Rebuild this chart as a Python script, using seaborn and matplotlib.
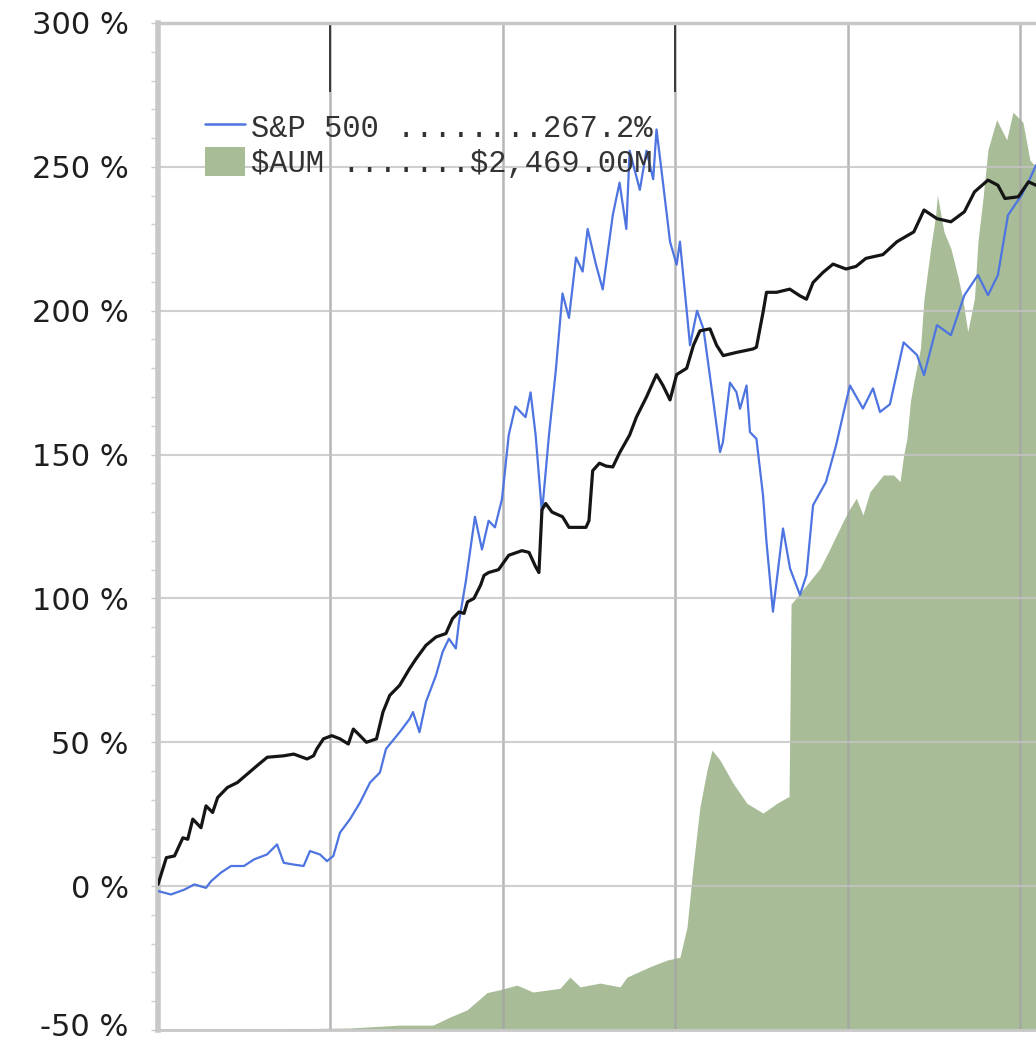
import matplotlib
matplotlib.use("Agg")
import matplotlib.pyplot as plt
import matplotlib.transforms as mtransforms
from matplotlib.ticker import MultipleLocator, FuncFormatter
from matplotlib.patches import Patch
from matplotlib.lines import Line2D
import seaborn as sns
import pandas as pd

# months from start (one vertical gridline every 12 months)
fund_x = [0.00, 0.58, 1.15, 1.73, 2.07, 2.42, 2.99, 3.34, 3.80, 4.15, 4.83, 5.52, 6.22, 6.90,
          7.60, 8.75, 9.44, 10.37, 10.82, 11.05, 11.51, 12.09, 12.66, 13.24, 13.59, 14.05,
          14.50, 15.20, 15.65, 16.12, 16.81, 17.50, 17.95, 18.64, 19.34, 20.03, 20.49, 20.94,
          21.29, 21.53, 21.98, 22.45, 22.68, 23.00, 23.69, 24.40, 25.32, 25.81, 26.27, 26.50,
          26.71, 26.97, 27.41, 28.14, 28.59, 29.77, 29.98, 30.24, 30.71, 31.17, 31.64, 32.11,
          32.81, 33.28, 33.98, 34.68, 35.13, 35.62, 36.08, 36.78, 37.25, 37.70, 38.40, 38.86,
          39.32, 40.24, 41.39, 41.63, 42.09, 42.33, 43.03, 43.95, 44.65, 45.11, 45.57, 46.26,
          46.96, 47.86, 48.56, 49.25, 50.43, 51.41, 52.58, 53.29, 54.19, 55.16, 56.10, 56.80,
          57.74, 58.43, 58.92, 59.85, 60.56, 61.08]
fund_y = [0.6, 9.9, 10.5, 16.8, 16.3, 23.3, 20.3, 27.9, 25.6, 30.8, 34.3, 36.0, 39.0, 41.9,
          44.8, 45.3, 45.9, 44.2, 45.3, 47.7, 51.2, 52.3, 51.2, 49.4, 54.6, 52.3,
          50.0, 51.2, 60.5, 66.3, 69.8, 75.6, 79.0, 83.7, 86.6, 87.8, 93.0, 95.3,
          94.8, 98.8, 100.0, 104.7, 108.0, 109.0, 110.0, 115.0, 116.6, 116.0, 111.0, 109.0,
          130.8, 133.0, 130.0, 128.4, 124.7, 124.7, 127.0, 144.4, 147.0, 146.0, 145.7, 150.6,
          156.8, 163.0, 170.0, 177.8, 174.0, 169.0, 177.8, 180.0, 188.0, 193.0, 193.7, 188.0,
          184.4, 185.5, 186.7, 187.3, 199.4, 206.4, 206.4, 207.5, 205.2, 204.0, 209.8, 213.3,
          216.2, 214.5, 215.4, 218.2, 219.5, 224.0, 227.4, 235.0, 232.0, 230.9, 234.4, 241.3,
          245.4, 243.6, 239.0, 239.6, 244.8, 243.6]

sp_x = [0.00, 0.90, 1.84, 2.53, 3.34, 3.69, 4.38, 5.08, 5.98, 6.68, 7.58, 8.28, 8.75, 9.44,
        10.13, 10.57, 11.27, 11.76, 12.20, 12.66, 13.36, 14.05, 14.75, 15.44, 15.86, 16.81,
        17.50, 17.74, 18.19, 18.64, 19.34, 19.80, 20.24, 20.72, 20.94, 21.41, 22.05, 22.54,
        23.00, 23.44, 23.93, 24.40, 24.86, 25.57, 25.92, 26.27, 26.71, 27.20, 27.67, 28.14,
        28.59, 29.08, 29.54, 29.89, 30.47, 30.94, 31.64, 32.11, 32.58, 32.81, 33.52, 33.98,
        34.45, 34.68, 35.13, 35.62, 36.08, 36.31, 36.78, 37.01, 37.50, 37.95, 38.61, 39.10,
        39.30, 39.79, 40.24, 40.49, 40.94, 41.18, 41.63, 42.09, 42.33, 42.78, 43.48, 43.97,
        44.66, 45.11, 45.57, 46.47, 47.17, 47.86, 48.14, 49.04, 49.74, 50.23, 50.92, 51.87,
        52.80, 53.29, 54.19, 55.16, 56.10, 57.04, 57.74, 58.43, 59.13, 60.08, 60.56, 61.08]
sp_y = [-1.7, -2.9, -1.2, 0.6, -0.6, 1.7, 4.7, 7.0, 7.0, 9.3, 11.0, 14.5, 8.1, 7.5,
        7.0, 12.2, 11.0, 8.7, 10.5, 18.6, 23.3, 29.0, 36.0, 39.5, 47.7, 53.5,
        58.1, 60.5, 53.5, 64.0, 73.3, 81.4, 86.0, 82.6, 91.9, 105.8, 128.4, 117.0,
        127.0, 124.7, 134.5, 156.8, 166.7, 163.0, 171.6, 156.8, 129.6, 156.8, 179.0, 206.0,
        197.5, 218.5, 213.6, 228.4, 216.0, 207.4, 233.3, 244.5, 228.4, 255.6, 242.0, 255.6,
        245.7, 263.0, 244.5, 224.0, 216.0, 224.0, 200.0, 188.0, 200.0, 193.6, 169.4, 150.9,
        154.3, 175.0, 171.7, 165.9, 174.0, 157.8, 155.5, 135.8, 119.7, 95.4, 124.3, 110.4,
        101.2, 108.1, 132.4, 140.5, 153.2, 168.2, 174.0, 166.0, 173.0, 164.8, 167.5, 189.0,
        184.6, 177.6, 195.0, 191.5, 205.4, 212.4, 205.4, 212.4, 233.2, 240.2, 244.8, 250.6]

aum_x = [0.00, 6.40, 13.36, 16.83, 19.13, 20.31, 21.50, 22.89, 23.79, 24.97, 26.09, 27.97,
         28.66, 29.36, 30.75, 32.14, 32.63, 34.23, 35.41, 36.31, 36.80, 37.22, 37.70, 38.19,
         38.54, 39.10, 40.00, 40.97, 42.09, 43.06, 43.83, 43.90, 44.04, 45.11, 46.05, 46.75,
         47.65, 48.14, 48.58, 49.04, 49.53, 50.46, 51.17, 51.62, 51.87, 52.10, 52.34, 52.58,
         53.04, 53.29, 53.75, 54.10, 54.22, 54.68, 55.16, 55.62, 55.98, 56.33, 56.80, 57.04,
         57.39, 57.74, 58.34, 59.04, 59.48, 60.17, 60.66, 61.08]
aum_y = [-50.0, -49.8, -49.3, -48.3, -48.3, -45.5, -43.0, -37.0, -36.0, -34.4, -36.8, -35.5,
         -31.6, -35.0, -33.7, -35.0, -31.6, -28.0, -25.7, -24.7, -14.3, 6.6, 27.5, 40.3,
         47.3, 43.8, 35.8, 28.8, 25.4, 28.8, 31.0, 31.0, 98.0, 104.6, 110.4, 117.3,
         126.7, 131.3, 134.8, 129.0, 137.1, 142.9, 142.9, 140.6, 149.8, 155.6, 168.4, 175.3,
         186.9, 204.3, 221.6, 233.2, 240.2, 227.4, 221.6, 212.4, 204.3, 192.7, 204.3, 224.0,
         239.0, 256.0, 266.4, 259.4, 269.0, 265.5, 252.3, 250.0]

sp_label = "S&P 500 ........267.2%"
aum_label = r"\$AUM .......\$2,469.00M"
y_ticks = [-50, 0, 50, 100, 150, 200, 250, 300]

df_fund = pd.DataFrame({"month": fund_x, "pct": fund_y})
df_sp = pd.DataFrame({"month": sp_x, "pct": sp_y})

sns.set_theme(style="white")
plt.rcParams['font.family'] = ['DejaVu Sans']

fig = plt.figure(figsize=(10.36, 10.45), dpi=100)
ax = fig.add_axes([158 / 1036, 15 / 1045, 878 / 1036, 1007 / 1045])

green = "#a8bd97"
blue = "#4d74e0"

ax.fill_between(aum_x, -50, aum_y, color=green, lw=0, zorder=1)
sns.lineplot(data=df_sp, x="month", y="pct", ax=ax, color=blue, lw=1.6,
             estimator=None, sort=False, zorder=3)
sns.lineplot(data=df_fund, x="month", y="pct", ax=ax, color="#151515", lw=2.3,
             estimator=None, sort=False, zorder=4)

ax.set_xlim(0, 61.08)
ax.set_ylim(-50, 300)
ax.set_xlabel("")
ax.set_ylabel("")

# grid
ax.set_xticks([12, 24, 36, 48, 60])
ax.set_xticklabels([])
ax.tick_params(axis="x", length=0)
ax.set_yticks(y_ticks)
ax.yaxis.set_minor_locator(MultipleLocator(10))
ax.yaxis.set_major_formatter(FuncFormatter(lambda v, p: f"{int(v)} %"))
ax.tick_params(axis="y", which="major", length=5, width=1, color="#c8c8c8",
               pad=16, labelsize=22, labelcolor="#1e1e1e", left=True)
ax.tick_params(axis="y", which="minor", length=5, width=1, color="#d0d0d0", left=True)
ax.set_axisbelow("line")
ax.xaxis.grid(True, color="#a4a4a4", lw=1.8, alpha=0.8)
ax.yaxis.grid(True, color="#c4c4c4", lw=1.5, alpha=0.8)
ax.vlines([12, 36], 276, 300, color="#222222", lw=1.2, zorder=2)

# nudge the lowest label up so it stays inside the figure
fig.canvas.draw()
low = ax.get_yticklabels()[0]
low.set_transform(low.get_transform() + mtransforms.ScaledTranslation(0, 4 / 72, fig.dpi_scale_trans))

for side in ["left", "top", "bottom"]:
    ax.spines[side].set_visible(True)
    ax.spines[side].set_color("#c8c8c8")
ax.spines["left"].set_linewidth(4)
ax.spines["top"].set_linewidth(2.5)
ax.spines["bottom"].set_linewidth(2)
ax.spines["right"].set_visible(False)

handles = [Line2D([], [], color=blue, lw=1.8), Patch(facecolor=green, edgecolor="none")]
ax.legend(handles, [sp_label, aum_label], loc="upper left",
          bbox_to_anchor=(0.0535, 0.912), borderaxespad=0, borderpad=0,
          frameon=False, handlelength=1.3, handleheight=1.1, handletextpad=0.2,
          labelspacing=0.1, prop={"family": "Liberation Mono", "size": 22},
          labelcolor="#333333")

fig.savefig("out.png", dpi=100)
